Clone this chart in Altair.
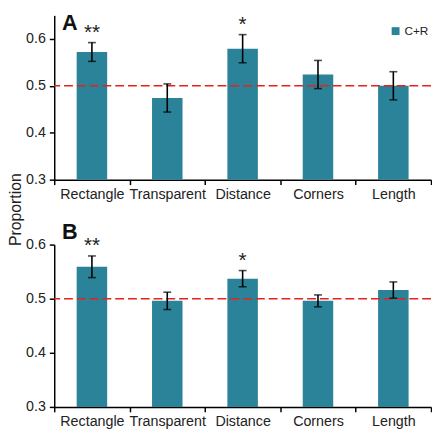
import altair as alt
import pandas as pd

categories = ["Rectangle", "Transparent", "Distance", "Corners", "Length"]
a_mean = [0.572, 0.474, 0.579, 0.524, 0.500]
a_err = [0.020, 0.030, 0.030, 0.030, 0.030]
a_sig = ["**", "", "*", "", ""]
b_mean = [0.559, 0.496, 0.537, 0.496, 0.516]
b_err = [0.020, 0.016, 0.015, 0.011, 0.015]
b_sig = ["**", "", "*", "", ""]
series_name = "C+R"
chance = [0.5]
a_ticks = [0.3, 0.4, 0.5, 0.6]
b_ticks = [0.3, 0.4, 0.5, 0.6]

TEAL = "#2b8399"
FONT = "Liberation Sans"


def panel(mean, err, sig, domain, ticks, height, letter, title_offset, show_legend, y_title):
    df = pd.DataFrame({
        "cat": categories,
        "mean": mean,
        "lo": [m - e for m, e in zip(mean, err)],
        "hi": [m + e for m, e in zip(mean, err)],
        "sig": sig,
        "series": [series_name] * len(categories),
    })
    base = alt.Chart(df)
    x = alt.X("cat:N", sort=categories,
              scale=alt.Scale(paddingInner=0, paddingOuter=0),
              axis=alt.Axis(title=None, tickBand="extent", labelAngle=0, labelPadding=3))
    yaxis_kwargs = dict(values=ticks, format=".1f", labelPadding=4)
    if y_title:
        yaxis_kwargs.update(title="Proportion", titleX=-31, titleY=197, titleAngle=270,
                            titleAlign="center", titleBaseline="bottom",
                            titleFont=FONT, titleFontSize=16, titleFontWeight="normal",
                            titleColor="#222")
    else:
        yaxis_kwargs.update(title=None)
    yscale = alt.Scale(domain=domain, zero=False, nice=False)
    if show_legend:
        leg = alt.Legend(title=None, orient="none", legendX=341, legendY=10,
                         symbolType="square", symbolSize=64, symbolStrokeWidth=0,
                         labelFont=FONT, labelFontSize=12, labelColor="#222",
                         padding=0, labelOffset=3)
    else:
        leg = None
    bars = base.mark_bar(width=31).encode(
        x=x,
        y=alt.Y("mean:Q", scale=yscale, axis=alt.Axis(**yaxis_kwargs)),
        y2=alt.datum(domain[0]),
        color=alt.Color("series:N", scale=alt.Scale(range=[TEAL]), legend=leg),
    )
    ref = alt.Chart(pd.DataFrame({"v": chance})).mark_rule(
        color="#e5231b", strokeDash=[9, 4], strokeWidth=1.6
    ).encode(y=alt.Y("v:Q"))
    err_rule = base.mark_rule(color="black", strokeWidth=1.6).encode(
        x=alt.X("cat:N", sort=categories), y="lo:Q", y2="hi:Q")
    cap_hi = base.mark_tick(color="black", size=8, thickness=1.6).encode(
        x=alt.X("cat:N", sort=categories), y="hi:Q")
    cap_lo = base.mark_tick(color="black", size=8, thickness=1.6).encode(
        x=alt.X("cat:N", sort=categories), y="lo:Q")
    stars = base.mark_text(baseline="bottom", dy=0, fontSize=21, font=FONT, color="#222").encode(
        x=alt.X("cat:N", sort=categories), y="hi:Q", text="sig:N")
    return alt.layer(bars, ref, err_rule, cap_hi, cap_lo, stars).properties(
        width=383, height=height,
        title=alt.TitleParams(letter, anchor="start", frame="group", dx=8, offset=title_offset,
                              fontSize=22, fontWeight="bold", font=FONT, color="#111"),
    )


pa = panel(a_mean, a_err, a_sig, [0.3, 0.65], a_ticks, 167, "A", -21, True, True)
pb = panel(b_mean, b_err, b_sig, [0.3, 0.6], b_ticks, 165, "B", -9, False, False)

chart = alt.vconcat(pa, pb, spacing=66, bounds="flush").properties(padding=0).configure_view(
    stroke=None
).configure_axis(
    domainColor="black", domainWidth=1.5, tickColor="black", tickWidth=1.5, tickSize=5,
    labelFont=FONT, labelFontSize=14.5, labelColor="#222", grid=False,
)

chart.save("out.html", embed_options={"renderer": "svg", "actions": False})
